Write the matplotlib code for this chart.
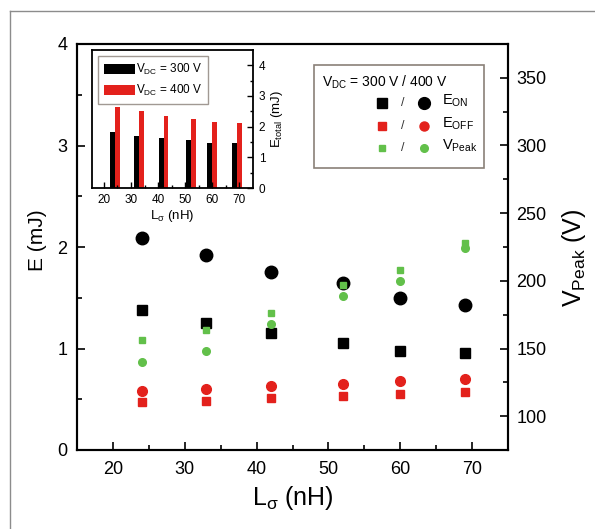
import matplotlib
matplotlib.use("Agg")
import matplotlib.pyplot as plt
from matplotlib.lines import Line2D
from matplotlib.patches import Rectangle

plt.rcParams['font.family'] = ['Liberation Sans', 'DejaVu Sans']
plt.rcParams['mathtext.fontset'] = 'custom'
plt.rcParams['mathtext.rm'] = 'Liberation Sans'
plt.rcParams['mathtext.it'] = 'Liberation Sans:italic'

# ---- data ----
L_sigma = [24, 33, 42, 52, 60, 69]
E_on_300 = [1.38, 1.25, 1.15, 1.05, 0.975, 0.955]
E_on_400 = [2.09, 1.92, 1.75, 1.65, 1.50, 1.425]
E_off_300 = [0.47, 0.48, 0.51, 0.53, 0.555, 0.575]
E_off_400 = [0.577, 0.60, 0.63, 0.655, 0.68, 0.70]
V_peak_300 = [156, 164, 176, 197, 208, 228]
V_peak_400 = [140, 148, 168, 189, 200, 224]
E_total_300 = [1.81, 1.70, 1.63, 1.55, 1.48, 1.48]
E_total_400 = [2.64, 2.50, 2.35, 2.26, 2.15, 2.11]

BLACK = '#000000'
RED = '#e3211c'
GREEN = '#62c04a'

fig = plt.figure(figsize=(5.95, 5.29), dpi=100)
fig.patch.set_facecolor('white')

# outer frame (left and top visible)
fig.add_artist(Line2D([10/595, 10/595], [0, 1-11/529], transform=fig.transFigure,
                      color='#8c8c8c', lw=1.0))
fig.add_artist(Line2D([10/595, 1], [1-11/529, 1-11/529], transform=fig.transFigure,
                      color='#8c8c8c', lw=1.0))

AX_L, AX_R, AX_T, AX_B = 77, 508, 44, 450
ax = fig.add_axes([AX_L/595, 1-AX_B/529, (AX_R-AX_L)/595, (AX_B-AX_T)/529])
ax2 = ax.twinx()

def fx(px):
    return (px - AX_L) / (AX_R - AX_L)

def fy(py):
    return (AX_B - py) / (AX_B - AX_T)

ax.set_xlim(15, 75)
ax.set_ylim(0, 4)
ax2.set_ylim(75, 375)
ax.set_xticks([20, 30, 40, 50, 60, 70])
ax.set_xticks([25, 35, 45, 55, 65], minor=True)
ax.set_yticks([0, 1, 2, 3, 4])
ax.set_yticks([0.5, 1.5, 2.5, 3.5], minor=True)
ax2.set_yticks([100, 150, 200, 250, 300, 350])
ax2.set_yticks([125, 175, 225, 275, 325], minor=True)

for a in (ax, ax2):
    for s in a.spines.values():
        s.set_linewidth(1.5)
ax.tick_params(which='both', direction='in', width=1.2, labelsize=13, top=False, right=False)
ax.tick_params(which='major', length=6)
ax.tick_params(which='minor', length=3.5)
ax.tick_params(axis='x', pad=8)
ax.tick_params(axis='y', pad=7)
ax2.tick_params(which='both', direction='in', width=1.2, labelsize=13, pad=6)
ax2.tick_params(which='major', length=6)
ax2.tick_params(which='minor', length=3.5)

ax.set_xlabel(r'L$_\mathrm{σ}$ (nH)', fontsize=18)
ax.xaxis.set_label_coords(0.5, fy(484))
ax.set_ylabel('E (mJ)', fontsize=15)
ax.yaxis.set_label_coords(fx(47), fy(240))
ax2.set_ylabel(r'V$_{\rm Peak}$ (V)', fontsize=18)
ax2.yaxis.set_label_coords(fx(560), fy(258))

ax.plot(L_sigma, E_on_300, 's', color=BLACK, ms=7.5, ls='none')
ax.plot(L_sigma, E_on_400, 'o', color=BLACK, ms=9, ls='none')
ax.plot(L_sigma, E_off_300, 's', color=RED, ms=6, ls='none')
ax.plot(L_sigma, E_off_400, 'o', color=RED, ms=7, ls='none')
ax2.plot(L_sigma, V_peak_300, 's', color=GREEN, ms=5, ls='none')
ax2.plot(L_sigma, V_peak_400, 'o', color=GREEN, ms=5.5, ls='none')

# legend (drawn by hand, in axes fractions)
T = ax2.transAxes
ax2.add_patch(Rectangle((fx(314), fy(168)), fx(484) - fx(314), fy(65) - fy(168), transform=T,
                        facecolor='white', edgecolor='#8a8078', lw=1.2, zorder=5))
ax2.text(fx(322), fy(82), r'V$_{\rm DC}$ = 300 V / 400 V', transform=T, fontsize=10,
         ha='left', va='center', zorder=6)
rows = [(103, BLACK, 7, 8.5, r'E$_{\rm ON}$'),
        (126, RED, 6, 6.5, r'E$_{\rm OFF}$'),
        (148, GREEN, 5, 5.5, r'V$_{\rm Peak}$')]
for py, c, ss, cs, lab in rows:
    ax2.plot([fx(382)], [fy(py)], 's', color=c, ms=ss, transform=T, zorder=6, clip_on=False)
    ax2.text(fx(403), fy(py), '/', transform=T, fontsize=9, ha='center', va='center',
             color='#333333', zorder=6)
    ax2.plot([fx(424)], [fy(py)], 'o', color=c, ms=cs, transform=T, zorder=6, clip_on=False)
    ax2.text(fx(442), fy(py) + 0.005, lab, transform=T, fontsize=10.5, ha='left', va='center', zorder=6)

# inset
ins = fig.add_axes([91.7/595, 1-188/529, 161.3/595, 138/529])
ins.set_xlim(15.5, 75)
ins.set_ylim(0, 4.5)
bw = 1.8
ins.bar([x - bw/2 for x in L_sigma], E_total_300, width=bw, color=BLACK, label=r'V$_{\rm DC}$ = 300 V')
ins.bar([x + bw/2 for x in L_sigma], E_total_400, width=bw, color=RED, label=r'V$_{\rm DC}$ = 400 V')
ins.yaxis.tick_right()
ins.yaxis.set_label_position('right')
ins.set_xticks([20, 30, 40, 50, 60, 70])
ins.set_xticks([25, 35, 45, 55, 65], minor=True)
ins.set_yticks([0, 1, 2, 3, 4])
ins.set_yticks([0.5, 1.5, 2.5, 3.5], minor=True)
for s in ins.spines.values():
    s.set_linewidth(1.3)
ins.tick_params(which='both', direction='in', width=1.0, labelsize=8.5, left=False, top=False)
ins.tick_params(which='major', length=4.5)
ins.tick_params(which='minor', length=2.5)
ins.tick_params(axis='y', pad=4)
ins.tick_params(axis='x', pad=4)
ins.set_xlabel(r'L$_\mathrm{σ}$ (nH)', fontsize=9.5, labelpad=2)
ins.set_ylabel(r'E$_{\rm total}$ (mJ)', fontsize=9.5, labelpad=3)
il = ins.legend(loc='upper left', bbox_to_anchor=(0.039, 0.957), frameon=True, fancybox=False,
                edgecolor='#8a8078', fontsize=8.5, handlelength=2.6, handleheight=0.9,
                handletextpad=0.1, borderpad=0.5, labelspacing=0.5, borderaxespad=0)
il.get_frame().set_linewidth(1.0)

fig.savefig('out.png', dpi=100)
